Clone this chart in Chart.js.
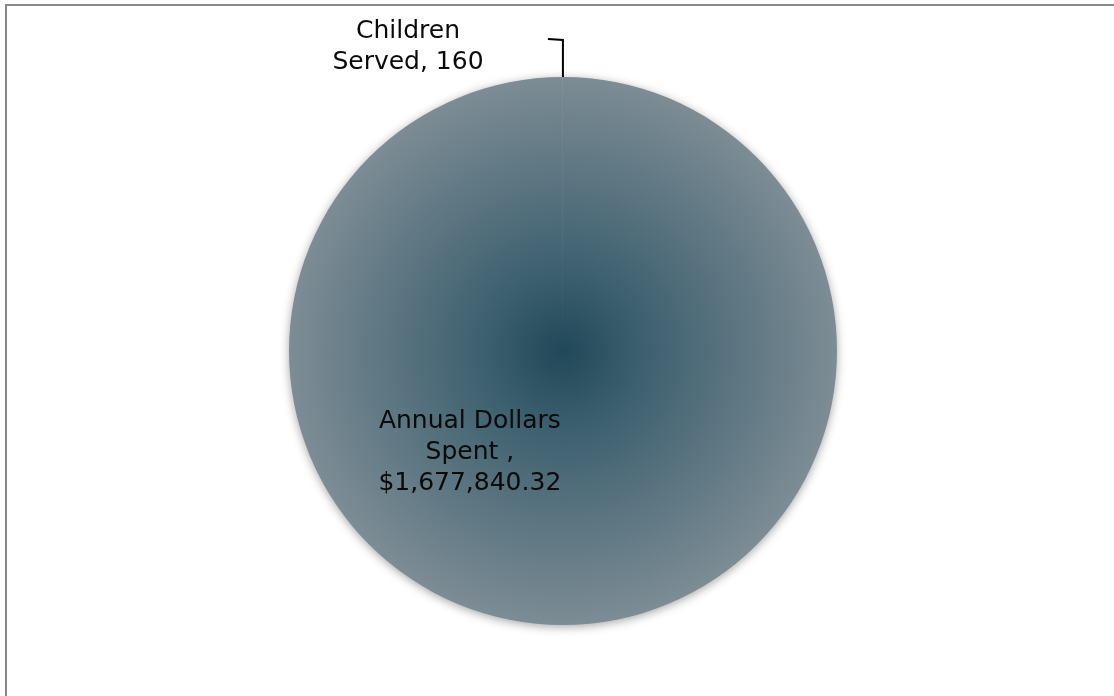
<!DOCTYPE html>
<html>
<head>
<meta charset="utf-8">
<script src="https://cdn.jsdelivr.net/npm/chart.js@4/dist/chart.umd.min.js"></script>
<style>
  html, body { margin: 0; padding: 0; background: #fff; overflow: hidden; }
  #frame {
    position: absolute; left: 5px; top: 4px;
    width: 1200px; height: 800px;
    border: 2px solid #888888;
  }
  #chart { position: absolute; left: 0; top: 0; }
</style>
</head>
<body>
<div id="frame"></div>
<canvas id="chart" width="1114" height="696"></canvas>
<script>
const labels = ['Annual Dollars Spent ', 'Children Served'];
const values = [1677840.32, 160];
const labelText = [
  ['Annual Dollars', 'Spent ,', '$1,677,840.32'],
  ['Children', 'Served, 160']
];

const centerColor = 'rgb(33, 72, 89)';
const edgeColor = 'rgb(125, 140, 149)';

function radialFill(context) {
  const chart = context.chart;
  const area = chart.chartArea;
  if (!area) return edgeColor;
  const cx = (area.left + area.right) / 2;
  const cy = (area.top + area.bottom) / 2;
  const r = Math.min(area.right - area.left, area.bottom - area.top) / 2;
  const g = chart.ctx.createRadialGradient(cx, cy, 0, cx, cy, r);
  g.addColorStop(0, centerColor);
  g.addColorStop(0.28, 'rgb(60, 95, 110)');
  g.addColorStop(1, edgeColor);
  return g;
}

// soft shadow under the pie
const shadowPlugin = {
  id: 'pieShadow',
  beforeDatasetDraw(chart) {
    const ctx = chart.ctx;
    ctx.save();
    ctx.shadowColor = 'rgba(0, 0, 0, 0.35)';
    ctx.shadowBlur = 10;
    ctx.shadowOffsetX = 0;
    ctx.shadowOffsetY = 2;
  },
  afterDatasetDraw(chart) {
    chart.ctx.restore();
  }
};

// Excel-style data labels with a leader line for the tiny slice
const labelPlugin = {
  id: 'sliceLabels',
  afterDatasetsDraw(chart) {
    const ctx = chart.ctx;
    const arcs = chart.getDatasetMeta(0).data;
    const big = arcs[0];
    const small = arcs[1];
    const r = big.outerRadius;
    const lineH = 31;

    ctx.save();
    ctx.fillStyle = '#0a0a0a';
    ctx.font = '25px "DejaVu Sans"';
    ctx.textAlign = 'center';
    ctx.textBaseline = 'middle';

    // big slice: best-fit position inside the pie
    const bx = big.x - r * 0.34;
    const by = big.y + r * 0.37;
    labelText[0].forEach((t, i) => ctx.fillText(t, bx, by + (i - 1) * lineH));

    // small slice: leader line from the top edge
    const mid = (small.startAngle + small.endAngle) / 2;
    const sx = small.x + r * Math.cos(mid);
    const sy = small.y + r * Math.sin(mid);
    ctx.strokeStyle = '#000';
    ctx.lineWidth = 2;
    ctx.beginPath();
    ctx.moveTo(sx, sy);
    ctx.lineTo(sx, sy - 37);
    ctx.lineTo(sx - 15, sy - 38);
    ctx.stroke();

    const lx = small.x - 155;
    const ly = sy - 46;
    labelText[1].forEach((t, i) => ctx.fillText(t, lx, ly + i * lineH));
    ctx.restore();
  }
};

new Chart(document.getElementById('chart'), {
  type: 'pie',
  data: {
    labels: labels,
    datasets: [{
      data: values,
      backgroundColor: radialFill,
      borderWidth: 0,
      hoverOffset: 0
    }]
  },
  options: {
    responsive: false,
    animation: false,
    layout: { padding: { left: 289, right: 277, top: 77, bottom: 71 } },
    plugins: {
      legend: { display: false },
      tooltip: { enabled: false }
    }
  },
  plugins: [shadowPlugin, labelPlugin]
});
</script>
</body>
</html>
